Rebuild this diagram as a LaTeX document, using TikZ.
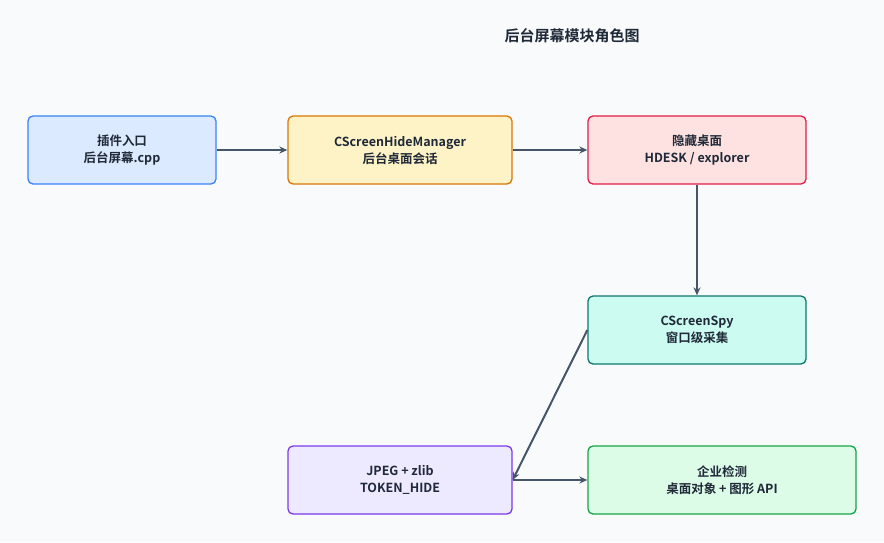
\documentclass[tikz,border=0pt]{standalone}
\usepackage{fontspec}
\setmainfont{Noto Sans CJK SC}[BoldFont={Noto Sans CJK SC Bold}]
\usetikzlibrary{arrows.meta}
\definecolor{bg}{HTML}{F8FAFC}
\definecolor{ln}{HTML}{475569}
\definecolor{fa}{HTML}{DBEAFE}\definecolor{da}{HTML}{3B82F6}
\definecolor{fb}{HTML}{FEF3C7}\definecolor{db}{HTML}{D97706}
\definecolor{fc}{HTML}{FEE2E2}\definecolor{dc}{HTML}{E11D48}
\definecolor{fd}{HTML}{CCFBF1}\definecolor{dd}{HTML}{0F766E}
\definecolor{fe}{HTML}{EDE9FE}\definecolor{de}{HTML}{7C3AED}
\definecolor{ff}{HTML}{DCFCE7}\definecolor{df}{HTML}{16A34A}
\definecolor{tx}{HTML}{1F2937}
\begin{document}
\begin{tikzpicture}[x=1pt,y=-1pt,
 box/.style={draw,line width=1.3pt,rounded corners=5pt,align=center,font=\bfseries\fontsize{12.5}{17}\selectfont,text=tx,inner sep=0pt,minimum height=68pt},
 ar/.style={draw=ln,line width=2pt,-{Stealth[length=8pt,width=7pt]}}]
\fill[bg] (0,0) rectangle (884,542);
\useasboundingbox (0,0) rectangle (884,542);
\node[font=\bfseries\fontsize{15}{18}\selectfont,text=tx] (t) at (572,36) {后台屏幕模块角色图};
\node[box,fill=fa,draw=da,minimum width=188pt] (a) at (122,150) {插件入口\\后台屏幕.cpp};
\node[box,fill=fb,draw=db,minimum width=224pt] (b) at (400,150) {CScreenHideManager\\后台桌面会话};
\node[box,fill=fc,draw=dc,minimum width=218pt] (c) at (697,150) {隐藏桌面\\HDESK / explorer};
\node[box,fill=fd,draw=dd,minimum width=218pt] (d) at (697,330) {CScreenSpy\\窗口级采集};
\node[box,fill=fe,draw=de,minimum width=224pt] (e) at (400,480) {JPEG + zlib\\TOKEN\_HIDE};
\node[box,fill=ff,draw=df,minimum width=268pt] (f) at (722,480) {企业检测\\桌面对象 + 图形 API};
\draw[ar] (a) -- (b);
\draw[ar] (b) -- (c);
\draw[ar] (c) -- (d);
\draw[ar] (d.west) -- (e.east);
\draw[ar] (e) -- (f);
\end{tikzpicture}
\end{document}
